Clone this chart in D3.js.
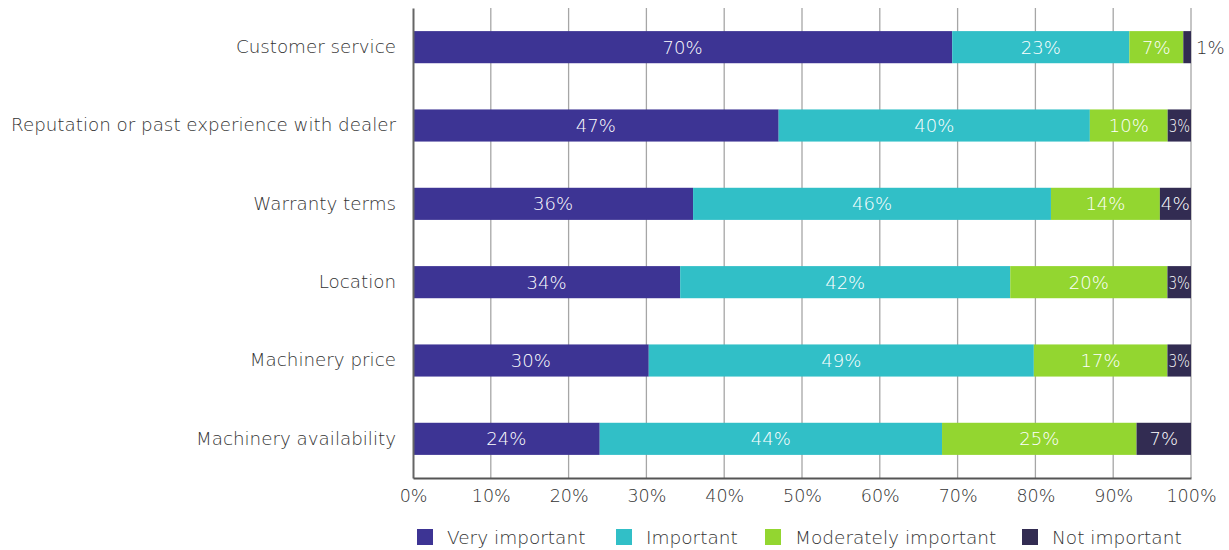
<!DOCTYPE html>
<html>
<head>
<meta charset="utf-8">
<script src="https://cdn.jsdelivr.net/npm/d3@7"></script>
<style>
  html, body { margin: 0; padding: 0; background: #fff; }
  svg { display: block; font-family: "DejaVu Sans", sans-serif; font-weight: 300; }
</style>
</head>
<body>
<svg id="chart" width="1229" height="550"></svg>
<script>
// Factors considered when choosing a machinery dealer
const categories = [
  "Customer service",
  "Reputation or past experience with dealer",
  "Warranty terms",
  "Location",
  "Machinery price",
  "Machinery availability"
];
const seriesNames = ["Very important", "Important", "Moderately important", "Not important"];
const veryImportant       = [70, 47, 36, 34, 30, 24];
const important           = [23, 40, 46, 42, 49, 44];
const moderatelyImportant = [7, 10, 14, 20, 17, 25];
const notImportant        = [1, 3, 4, 3, 3, 7];
const tickValues = [0, 0.1, 0.2, 0.3, 0.4, 0.5, 0.6, 0.7, 0.8, 0.9, 1];
const colors = ["#3d3494", "#31bfc7", "#93d630", "#322c52"];

const rows = categories.map((c, i) => ({
  category: c,
  "Very important": veryImportant[i],
  "Important": important[i],
  "Moderately important": moderatelyImportant[i],
  "Not important": notImportant[i]
}));

const svg = d3.select("#chart");
const margin = { left: 413, right: 38, top: 8, bottom: 72 };
const W = 1229, H = 550;
const textColor = "#333";

const x = d3.scaleLinear().domain([0, 1]).range([margin.left, W - margin.right]);
const y = d3.scaleBand().domain(categories).range([margin.top, H - margin.bottom])
  .paddingInner(0.59).paddingOuter(0.295);
const color = d3.scaleOrdinal().domain(seriesNames).range(colors);

// shares of each row, normalised to the full width
const stacked = d3.stack().keys(seriesNames).offset(d3.stackOffsetExpand)(rows);

// vertical gridlines
svg.append("g").selectAll("line").data(tickValues.slice(1)).join("line")
  .attr("x1", d => x(d)).attr("x2", d => x(d))
  .attr("y1", margin.top).attr("y2", H - margin.bottom)
  .attr("stroke", "#a6a6a6").attr("stroke-width", 1.3);

// bars
const layer = svg.append("g").selectAll("g").data(stacked).join("g")
  .attr("fill", d => color(d.key));
layer.selectAll("rect").data(d => d).join("rect")
  .attr("x", d => x(d[0]))
  .attr("width", d => x(d[1]) - x(d[0]))
  .attr("y", d => y(d.data.category))
  .attr("height", y.bandwidth());

// value labels
const labels = svg.append("g").attr("font-size", 18);
stacked.forEach(s => {
  s.forEach(d => {
    const v = d.data[s.key];
    const w = x(d[1]) - x(d[0]);
    const txt = v + "%";
    const cy = y(d.data.category) + y.bandwidth() / 2;
    if (w < 12) {
      labels.append("text")
        .attr("x", x(d[1]) + 5).attr("y", cy).attr("dy", "0.36em")
        .attr("fill", textColor).attr("text-anchor", "start").text(txt);
    } else {
      const t = labels.append("text")
        .attr("x", (x(d[0]) + x(d[1])) / 2).attr("y", cy).attr("dy", "0.36em")
        .attr("fill", "#fff").attr("text-anchor", "middle").text(txt);
      if (w < 36) t.attr("textLength", w - 2).attr("lengthAdjust", "spacingAndGlyphs");
    }
  });
});

// category axis
const yAxis = svg.append("g").attr("transform", `translate(${margin.left},0)`)
  .call(d3.axisLeft(y).tickSize(0).tickPadding(17));
yAxis.select(".domain").attr("stroke", "#666").attr("stroke-width", 2);
yAxis.selectAll("text").attr("font-size", 18.3).attr("fill", textColor)
  .attr("font-family", "DejaVu Sans, sans-serif");

// percentage axis
const xAxis = svg.append("g").attr("transform", `translate(0,${H - margin.bottom})`)
  .call(d3.axisBottom(x).tickValues(tickValues).tickFormat(d3.format(".0%")).tickSize(0).tickPadding(12));
xAxis.select(".domain").attr("stroke", "#555").attr("stroke-width", 2);
xAxis.selectAll("text").attr("font-size", 17.5).attr("fill", textColor)
  .attr("font-family", "DejaVu Sans, sans-serif");

// legend
const legendX = [417, 616, 765, 1022];
const legend = svg.append("g").selectAll("g").data(seriesNames).join("g")
  .attr("transform", (d, i) => `translate(${legendX[i]},529)`);
legend.append("rect").attr("width", 16).attr("height", 16).attr("fill", d => color(d));
legend.append("text").attr("x", 30).attr("y", 8).attr("dy", "0.36em")
  .attr("font-size", 18.5).attr("fill", textColor).text(d => d);
</script>
</body>
</html>
